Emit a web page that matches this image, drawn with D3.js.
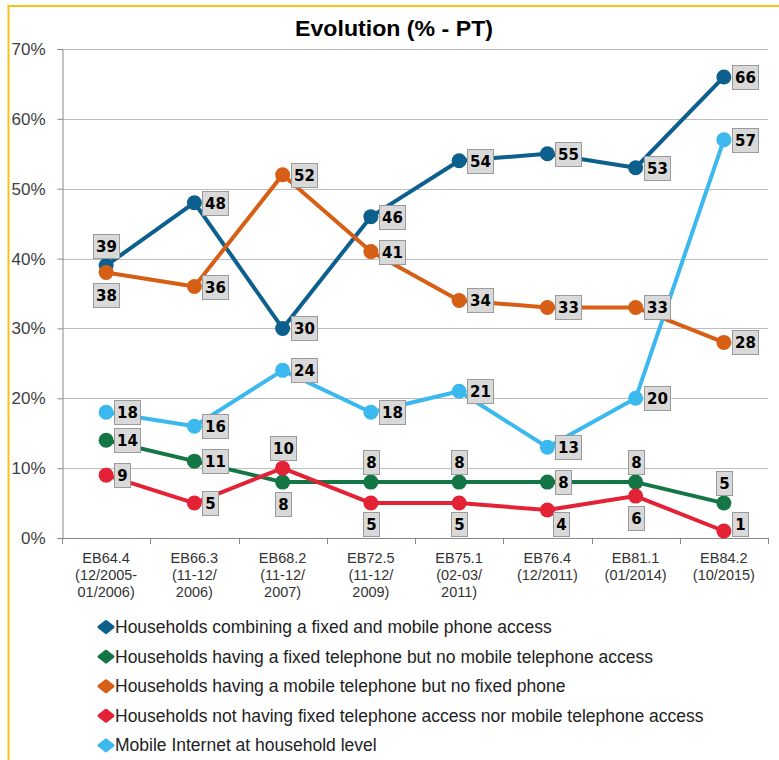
<!DOCTYPE html>
<html>
<head>
<meta charset="utf-8">
<script src="https://cdn.jsdelivr.net/npm/d3@7"></script>
<style>
  html, body { margin: 0; padding: 0; background: #fff; }
  svg { display: block; }
</style>
</head>
<body>
<svg id="chart" width="779" height="760"></svg>
<script>
// ---------- data ----------
const title = "Evolution (% - PT)";
const categories = ["EB64.4", "EB66.3", "EB68.2", "EB72.5", "EB75.1", "EB76.4", "EB81.1", "EB84.2"];
const categoryDates = [["(12/2005-", "01/2006)"], ["(11-12/", "2006)"], ["(11-12/", "2007)"], ["(11-12/", "2009)"],
                       ["(02-03/", "2011)"], ["(12/2011)"], ["(01/2014)"], ["(10/2015)"]];
const yTicks = [0, 10, 20, 30, 40, 50, 60, 70];

const seriesNames = [
  "Households combining a fixed and mobile phone access",
  "Households having a fixed telephone but no mobile telephone access",
  "Households having a mobile telephone but no fixed phone",
  "Households not having fixed telephone access nor mobile telephone access",
  "Mobile Internet at household level"
];
const fixedAndMobile = [39, 48, 30, 46, 54, 55, 53, 66];
const fixedOnly      = [14, 11, 8, 8, 8, 8, 8, 5];
const mobileOnly     = [38, 36, 52, 41, 34, 33, 33, 28];
const noPhone        = [9, 5, 10, 5, 5, 4, 6, 1];
const mobileInternet = [18, 16, 24, 18, 21, 13, 20, 57];

// ---------- styling / placement ----------
const seriesColors = ["#0d5f8e", "#147545", "#d75f15", "#e42236", "#3bb9ee"];
// label placement: r = right, a = above, b = below, rb = right-below
const labelPlacement = [
  ["a", "r", "r", "r", "r", "r", "r", "r"],
  ["r", "r", "b", "a", "a", "r", "a", "a"],
  ["b", "r", "r", "r", "r", "r", "r", "r"],
  ["r", "r", "a", "b", "b", "rb", "b", "r"],
  ["r", "r", "r", "r", "r", "r", "r", "r"]
];
const allValues = [fixedAndMobile, fixedOnly, mobileOnly, noPhone, mobileInternet];

const svg = d3.select("#chart");
const plotLeft = 62, plotRight = 768, plotTop = 49, plotBottom = 538;

const x = d3.scaleBand().domain(d3.range(categories.length)).range([plotLeft, plotRight]);
const cx = i => x(i) + x.bandwidth() / 2;
const y = d3.scaleLinear().domain([0, 70]).range([plotBottom, plotTop]);

// frame
svg.append("line").attr("x1", 7.5).attr("x2", 779).attr("y1", 6).attr("y2", 6)
  .attr("stroke", "#f7c21b").attr("stroke-width", 2);
svg.append("line").attr("x1", 8.5).attr("x2", 8.5).attr("y1", 6).attr("y2", 760)
  .attr("stroke", "#f7c21b").attr("stroke-width", 2);

// title
svg.append("text").attr("x", 394).attr("y", 36).attr("text-anchor", "middle")
  .attr("font-family", "'Liberation Sans', Arial, sans-serif")
  .attr("font-weight", "bold").attr("font-size", 22).attr("fill", "#000")
  .attr("textLength", 198).attr("lengthAdjust", "spacingAndGlyphs").text(title);

// gridlines
svg.append("g").selectAll("line").data(yTicks.filter(d => d > 0)).join("line")
  .attr("x1", plotLeft).attr("x2", plotRight)
  .attr("y1", d => Math.round(y(d)) + 0.5).attr("y2", d => Math.round(y(d)) + 0.5)
  .attr("stroke", "#bdbdbd").attr("stroke-width", 1);

// y axis
const yAxis = svg.append("g").attr("transform", `translate(${plotLeft + 0.5},0)`)
  .call(d3.axisLeft(y).tickValues(yTicks).tickFormat(d => d + "%").tickSize(5).tickPadding(12));
yAxis.select(".domain").attr("stroke", "#888");
yAxis.selectAll(".tick line").attr("stroke", "#888");
yAxis.selectAll(".tick text").attr("font-family", "'Liberation Sans', Arial, sans-serif")
  .attr("font-size", 17).attr("fill", "#404040");

// x axis
const xAxisG = svg.append("g");
xAxisG.append("line").attr("x1", plotLeft).attr("x2", plotRight).attr("y1", plotBottom + 0.5).attr("y2", plotBottom + 0.5)
  .attr("stroke", "#888");
const boundaries = d3.range(categories.length).map(i => x(i)).concat([x.range()[1]]);
xAxisG.selectAll("line.tk").data(boundaries).join("line").attr("class", "tk")
  .attr("x1", d => Math.round(d) + 0.5).attr("x2", d => Math.round(d) + 0.5)
  .attr("y1", plotBottom).attr("y2", plotBottom + 6).attr("stroke", "#888");
const xl = xAxisG.selectAll("text.cat").data(categories).join("text").attr("class", "cat")
  .attr("x", (d, i) => cx(i)).attr("y", 563).attr("text-anchor", "middle")
  .attr("font-family", "'Liberation Sans', Arial, sans-serif")
  .attr("font-size", 14.5).attr("fill", "#333");
xl.each(function (d, i) {
  const t = d3.select(this);
  [d].concat(categoryDates[i]).forEach((line, k) => {
    t.append("tspan").attr("x", cx(i)).attr("dy", k === 0 ? 0 : 17).text(line);
  });
});

// lines and points
const lineGen = d3.line().x((d, i) => cx(i)).y(d => y(d));
allValues.forEach((vals, s) => {
  const g = svg.append("g");
  g.append("path").datum(vals).attr("d", lineGen).attr("fill", "none")
    .attr("stroke", seriesColors[s]).attr("stroke-width", 4).attr("stroke-linejoin", "round");
  g.selectAll("circle").data(vals).join("circle")
    .attr("cx", (d, i) => cx(i)).attr("cy", d => y(d)).attr("r", 7.5).attr("fill", seriesColors[s]);
});

// labels
const labelLayer = svg.append("g");
allValues.forEach((vals, s) => {
  vals.forEach((v, i) => {
    const txt = String(v);
    const w = txt.length === 1 ? 16 : 26, h = 24;
    const px = cx(i), py = y(v);
    const pos = labelPlacement[s][i];
    let bx, by;
    if (pos === "r") { bx = px + 8; by = py - h / 2; }
    else if (pos === "a") { bx = px - w / 2; by = py - 8 - h; }
    else if (pos === "b") { bx = px - w / 2; by = py + 10; }
    else { bx = px + 6; by = py + 3; }
    by = Math.min(by, plotBottom - 2 - h);
    const g = labelLayer.append("g");
    g.append("rect").attr("x", Math.round(bx) + 0.5).attr("y", Math.round(by) + 0.5)
      .attr("width", w).attr("height", h).attr("fill", "#d9d9d9").attr("stroke", "#9a9a9a");
    g.append("text").attr("x", Math.round(bx) + 0.5 + w / 2).attr("y", Math.round(by) + h / 2 + 6)
      .attr("text-anchor", "middle").attr("font-family", "'DejaVu Sans', sans-serif")
      .attr("font-weight", "bold").attr("font-size", 15).attr("fill", "#000").text(txt);
  });
});

// legend
const legend = svg.append("g");
seriesNames.forEach((name, s) => {
  const ly = 627 + s * 29.6;
  legend.append("path").attr("transform", `translate(106,${ly})`)
    .attr("d", "M0,-5.5 L7,0 L0,5.5 L-7,0 Z").attr("fill", seriesColors[s])
    .attr("stroke", seriesColors[s]).attr("stroke-width", 3).attr("stroke-linejoin", "round");
  legend.append("text").attr("x", 115).attr("y", ly + 6)
    .attr("font-family", "'Liberation Sans', Arial, sans-serif")
    .attr("font-size", 17.5).attr("fill", "#222").text(name);
});
</script>
</body>
</html>
